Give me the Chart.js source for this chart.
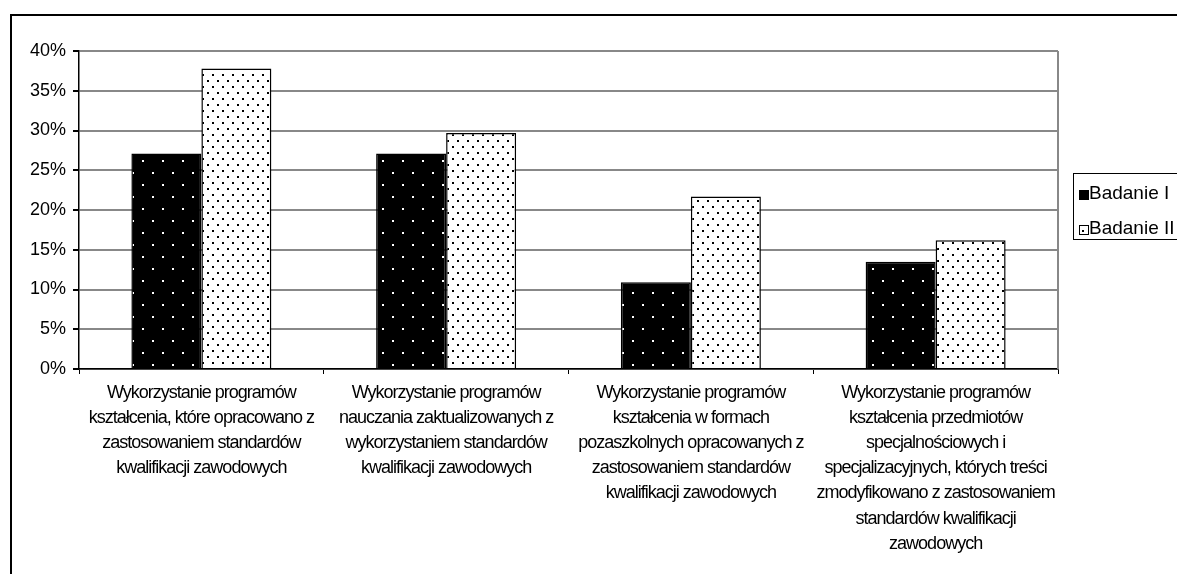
<!DOCTYPE html>
<html>
<head>
<meta charset="utf-8">
<title>Wykorzystanie programów kształcenia</title>
<script src="https://cdn.jsdelivr.net/npm/chart.js@4.4.1/dist/chart.umd.min.js"></script>
<style>
  html, body { margin: 0; padding: 0; background: #fff; overflow: hidden; }
  #wrap { position: relative; width: 1240px; height: 620px; }
  canvas { display: block; }
</style>
</head>
<body>
<div id="wrap"><canvas id="chart" width="1240" height="620"></canvas></div>
<script>
// Category labels (one array of lines per category)
const categories = [
  ["Wykorzystanie programów", "kształcenia, które opracowano z", "zastosowaniem standardów", "kwalifikacji zawodowych"],
  ["Wykorzystanie programów", "nauczania zaktualizowanych z", "wykorzystaniem standardów", "kwalifikacji zawodowych"],
  ["Wykorzystanie programów", "kształcenia w formach", "pozaszkolnych opracowanych z", "zastosowaniem standardów", "kwalifikacji zawodowych"],
  ["Wykorzystanie programów", "kształcenia przedmiotów", "specjalnościowych i", "specjalizacyjnych, których treści", "zmodyfikowano z zastosowaniem", "standardów kwalifikacji", "zawodowych"]
];
const seriesNames = ["Badanie I", "Badanie II"];
const badanieI = [27.1, 27.1, 10.9, 13.5];
const badanieII = [37.8, 29.7, 21.7, 16.2];
const yTicks = [0, 5, 10, 15, 20, 25, 30, 35, 40];

const FONT = "'Liberation Sans', Arial, sans-serif";

// Dotted fills: white dots on black, black dots on white
function makePattern(bg, fg, w, h, dots) {
  const c = document.createElement('canvas');
  c.width = w; c.height = h;
  const g = c.getContext('2d');
  g.fillStyle = bg; g.fillRect(0, 0, w, h);
  g.fillStyle = fg;
  dots.forEach(([x, y]) => g.fillRect(x, y, 2, 2));
  return g.createPattern(c, 'repeat');
}
const ctx = document.getElementById('chart').getContext('2d');
const darkFill = makePattern('#000', '#fff', 20, 24, [[12, 4], [2, 16]]);
const lightFill = makePattern('#fff', '#000', 10, 12, [[2, 2], [7, 8]]);

// Outer frame, plot-area right edge, condensed category labels and legend box
const decor = {
  id: 'decor',
  beforeDraw(chart) {
    const c = chart.ctx;
    const s = chart.scales.x;
    if (!s._tight) {
      const orig = s.drawLabels;
      s.drawLabels = function (area) {
        const prev = this.ctx.letterSpacing;
        this.ctx.letterSpacing = '-1px';
        orig.call(this, area);
        this.ctx.letterSpacing = prev || '0px';
      };
      s._tight = true;
    }
    c.save();
    c.fillStyle = '#fff';
    c.fillRect(0, 0, chart.width, chart.height);
    c.restore();
  },
  afterDraw(chart) {
    const c = chart.ctx;
    const a = chart.chartArea;
    c.save();
    // frame around the whole chart
    c.strokeStyle = '#000';
    c.lineWidth = 2;
    c.strokeRect(11, 15, chart.width - 20, chart.height - 25);
    // right edge of plot area
    c.strokeStyle = '#888';
    c.lineWidth = 2;
    c.beginPath();
    c.moveTo(a.right, a.top);
    c.lineTo(a.right, a.bottom);
    c.stroke();
    // legend
    const lx = a.right + 15;
    const cy = (a.top + a.bottom) / 2;
    const ly = cy - 37;
    c.strokeStyle = '#000';
    c.lineWidth = 1;
    c.strokeRect(lx + 0.5, ly + 0.5, 130, 66);
    c.font = '19px ' + FONT;
    c.textBaseline = 'middle';
    chart.data.datasets.forEach((ds, i) => {
      const rowY = ly + 21 + i * 35;
      c.fillStyle = ds.backgroundColor;
      c.fillRect(lx + 6, rowY - 4, 10, 10);
      c.strokeStyle = '#000';
      c.strokeRect(lx + 6.5, rowY - 3.5, 9, 9);
      c.fillStyle = '#000';
      c.fillText(ds.label, lx + 16, rowY);
    });
    c.restore();
  }
};

new Chart(ctx, {
  type: 'bar',
  data: {
    labels: categories,
    datasets: [
      { label: seriesNames[0], data: badanieI, backgroundColor: darkFill, borderColor: '#000', borderWidth: 1.5 },
      { label: seriesNames[1], data: badanieII, backgroundColor: lightFill, borderColor: '#000', borderWidth: 1.5 }
    ]
  },
  options: {
    responsive: false,
    animation: false,
    devicePixelRatio: 1,
    layout: { padding: { top: 51, right: 182, left: 0, bottom: 0 } },
    plugins: { legend: { display: false }, tooltip: { enabled: false } },
    datasets: { bar: { categoryPercentage: 0.572, barPercentage: 1 } },
    scales: {
      x: {
        grid: { offset: true, drawOnChartArea: false, tickLength: 5, tickColor: '#000' },
        border: { color: '#000', width: 1.5 },
        ticks: {
          color: '#000',
          padding: 6,
          maxRotation: 0,
          autoSkip: false,
          font: { family: FONT, size: 18, lineHeight: 1.4 }
        },
        afterFit(scale) { scale.height = 620 - 369; }
      },
      y: {
        min: 0,
        max: 40,
        afterBuildTicks(scale) { scale.ticks = yTicks.map(v => ({ value: v })); },
        grid: { color: '#888', lineWidth: 2, tickLength: 6, tickColor: '#000' },
        border: { color: '#000', width: 1.5 },
        ticks: {
          color: '#000',
          padding: 7,
          font: { family: FONT, size: 18 },
          callback: v => v + '%'
        },
        afterFit(scale) { scale.width = 79; }
      }
    }
  },
  plugins: [decor]
});
</script>
</body>
</html>
